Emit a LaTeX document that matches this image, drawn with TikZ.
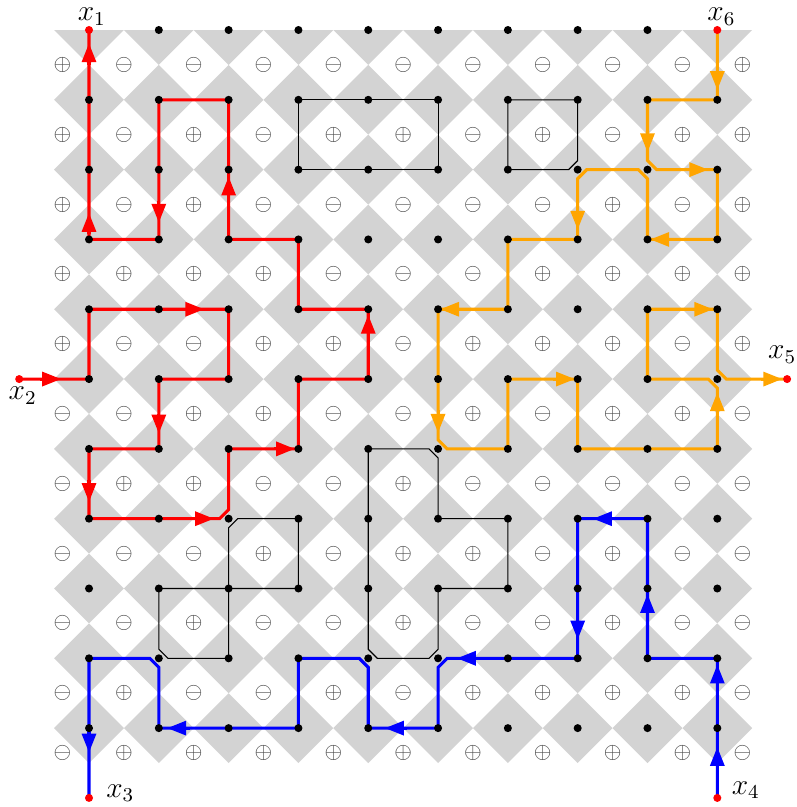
\documentclass[tikz,border=0pt]{standalone}
\usetikzlibrary{arrows.meta,calc}
\definecolor{tilegray}{RGB}{211,211,211}
\definecolor{walkorange}{RGB}{255,165,0}
\newcommand\pathtip[5]{\draw[tipline,#1] ($(#2)!#4!(#3)$) -- ($(#2)!#5!(#3)$);}
\begin{document}
\begin{tikzpicture}[x=1cm,y=1cm,
  dot/.style={circle,fill=black,draw=none,inner sep=0pt,minimum size=0.115cm},
  termdot/.style={circle,fill=red,draw=none,inner sep=0pt,minimum size=0.115cm},
  sym/.style={text=black!70,inner sep=0pt,font=\fontsize{9.3}{10}\selectfont},
  loopline/.style={draw=black,line width=0.45pt},
  walk/.style={line width=1.25pt},
  tipline/.style={-{Triangle[length=0.27cm,width=0.2cm]},line width=1.25pt},
  lab/.style={inner sep=0pt,font=\fontsize{11.5}{13}\selectfont}]
\useasboundingbox (-1.275,-11.13) rectangle (10.13,0.43);
\def\chm{0.13}
% lattice coordinates
\foreach \i in {0,...,9} {\foreach \j in {0,...,10} {\coordinate (g-\i-\j) at (\i,-\j);}}
\coordinate (t2) at (-1,-5);
\coordinate (t5) at (10,-5);
\coordinate (t3) at (0,-11);
\coordinate (t4) at (9,-11);
% checkerboard of diamonds
\begin{scope}
\clip (-0.5,-10.5) rectangle (9.5,0);
\foreach \i in {0,...,9} {\foreach \j in {0,...,10} {
  \fill[tilegray] (\i-0.5,-\j) -- (\i,-\j+0.5) -- (\i+0.5,-\j) -- (\i,-\j-0.5) -- cycle;}}
\end{scope}
% signs
\foreach \row [count=\r from 0] in {%
 {p,m,m,m,m,m,m,m,m,m,p},%
 {p,m,p,m,p,p,m,p,m,p,p},%
 {p,m,p,m,m,m,m,m,p,m,p},%
 {p,p,p,p,m,m,m,p,p,p,p},%
 {p,m,m,p,p,m,p,p,p,m,p},%
 {m,m,p,p,m,m,p,m,p,p,m},%
 {m,p,p,m,m,p,m,m,m,m,m},%
 {m,m,m,p,m,p,p,m,p,m,m},%
 {m,m,p,m,m,p,m,m,p,m,m},%
 {m,p,m,m,p,m,p,p,p,p,m},%
 {m,p,p,p,p,p,p,p,p,p,m}} {%
  \foreach \s [count=\c from 0] in \row {%
    \pgfmathsetmacro\sx{\c==0 ? -0.38 : (\c==10 ? 9.36 : \c-0.5)}%
    \pgfmathsetmacro\sy{\r==10 ? -10.36 : -\r-0.5}%
    \node[sym] (s-\r-\c) at (\sx,\sy) {\if p\s$\oplus$\else$\ominus$\fi};
  }%
}
% black loops
\draw[loopline] (g-3-1) -- (g-5-1) -- (g-5-2) -- (g-3-2) -- cycle;
\draw[loopline] (g-6-1) -- (g-7-1) -- ($(g-7-2)+(0,\chm)$) -- ($(g-7-2)+(-\chm,0)$) -- (g-6-2) -- cycle;
\draw[loopline] ($(g-2-7)+(\chm,0)$) -- (g-3-7) -- (g-3-8) -- (g-1-8) -- ($(g-1-9)+(0,\chm)$) -- ($(g-1-9)+(\chm,0)$) -- (g-2-9) -- ($(g-2-7)+(0,-\chm)$) -- cycle;
\draw[loopline] (g-4-6) -- ($(g-5-6)+(-\chm,0)$) -- ($(g-5-6)+(0,-\chm)$) -- (g-5-7) -- (g-6-7) -- (g-6-8) -- (g-5-8) -- ($(g-5-9)+(0,\chm)$) -- ($(g-5-9)+(-\chm,0)$) -- ($(g-4-9)+(\chm,0)$) -- ($(g-4-9)+(0,\chm)$) -- cycle;
% red walk
\draw[walk,red] (t2) -- (g-0-5) -- (g-0-4) -- (g-2-4) -- (g-2-5) -- (g-1-5) -- (g-1-6) -- (g-0-6) -- (g-0-7) -- ($(g-2-7)+(-\chm,0)$) -- ($(g-2-7)+(0,\chm)$) -- (g-2-6) -- (g-3-6) -- (g-3-5) -- (g-4-5) -- (g-4-4) -- (g-3-4) -- (g-3-3) -- (g-2-3) -- (g-2-1) -- (g-1-1) -- (g-1-3) -- (g-0-3) -- (g-0-0);
\pathtip{red}{t2}{g-0-5}{0.3}{0.6}
\pathtip{red}{g-1-4}{g-2-4}{0.35}{0.65}
\pathtip{red}{g-1-5}{g-1-6}{0.5}{0.78}
\pathtip{red}{g-0-6}{g-0-7}{0.45}{0.76}
\pathtip{red}{g-1-7}{g-2-7}{0.5}{0.79}
\pathtip{red}{g-2-6}{g-3-6}{0.65}{0.95}
\pathtip{red}{g-4-5}{g-4-4}{0.6}{0.92}
\pathtip{red}{g-2-3}{g-2-2}{0.6}{0.9}
\pathtip{red}{g-1-2}{g-1-3}{0.45}{0.76}
\pathtip{red}{g-0-3}{g-0-2}{0.08}{0.38}
\pathtip{red}{g-0-1}{g-0-0}{0.5}{0.81}
% orange walk
\draw[walk,walkorange] (g-9-0) -- (g-9-1) -- (g-8-1) -- ($(g-8-2)+(0,\chm)$) -- ($(g-8-2)+(\chm,0)$) -- (g-9-2) -- (g-9-3) -- (g-8-3) -- ($(g-8-2)+(0,-\chm)$) -- ($(g-8-2)+(-\chm,0)$) -- ($(g-7-2)+(\chm,0)$) -- ($(g-7-2)+(0,-\chm)$) -- (g-7-3) -- (g-6-3) -- (g-6-4) -- (g-5-4) -- ($(g-5-6)+(0,\chm)$) -- ($(g-5-6)+(\chm,0)$) -- (g-6-6) -- (g-6-5) -- (g-7-5) -- (g-7-6) -- (g-9-6) -- ($(g-9-5)+(0,-\chm)$) -- ($(g-9-5)+(-\chm,0)$) -- (g-8-5) -- (g-8-4) -- (g-9-4) -- ($(g-9-5)+(0,\chm)$) -- ($(g-9-5)+(\chm,0)$) -- (t5);
\pathtip{walkorange}{g-9-0}{g-9-1}{0.55}{0.86}
\pathtip{walkorange}{g-8-1}{g-8-2}{0.45}{0.75}
\pathtip{walkorange}{g-8-2}{g-9-2}{0.57}{0.87}
\pathtip{walkorange}{g-9-3}{g-8-3}{0.65}{0.96}
\pathtip{walkorange}{g-7-2}{g-7-3}{0.55}{0.86}
\pathtip{walkorange}{g-6-4}{g-5-4}{0.65}{0.97}
\pathtip{walkorange}{g-5-5}{g-5-6}{0.45}{0.77}
\pathtip{walkorange}{g-6-5}{g-7-5}{0.65}{0.96}
\pathtip{walkorange}{g-9-6}{g-9-5}{0.5}{0.81}
\pathtip{walkorange}{g-8-4}{g-9-4}{0.62}{0.94}
\pathtip{walkorange}{g-9-5}{t5}{0.62}{0.93}
% blue walk
\draw[walk,blue] (t4) -- (g-9-9) -- (g-8-9) -- (g-8-7) -- (g-7-7) -- (g-7-9) -- ($(g-5-9)+(\chm,0)$) -- ($(g-5-9)+(0,-\chm)$) -- (g-5-10) -- (g-4-10) -- ($(g-4-9)+(0,-\chm)$) -- ($(g-4-9)+(-\chm,0)$) -- (g-3-9) -- (g-3-10) -- (g-1-10) -- ($(g-1-9)+(0,-\chm)$) -- ($(g-1-9)+(-\chm,0)$) -- (g-0-9) -- (t3);
\pathtip{blue}{t4}{g-9-10}{0.4}{0.73}
\pathtip{blue}{g-9-10}{g-9-9}{0.6}{0.91}
\pathtip{blue}{g-8-9}{g-8-8}{0.6}{0.92}
\pathtip{blue}{g-8-7}{g-7-7}{0.45}{0.78}
\pathtip{blue}{g-7-8}{g-7-9}{0.4}{0.73}
\pathtip{blue}{g-6-9}{g-5-9}{0.4}{0.73}
\pathtip{blue}{g-5-10}{g-4-10}{0.45}{0.76}
\pathtip{blue}{g-2-10}{g-1-10}{0.55}{0.88}
\pathtip{blue}{g-0-10}{t3}{0.04}{0.35}
% dots
\foreach \i in {0,...,9} {\foreach \j in {0,...,10} {%
  \pgfmathtruncatemacro\isterm{(\j==0)&&((\i==0)||(\i==9))}%
  \ifnum\isterm=0 \node[dot] (d-\i-\j) at (g-\i-\j) {};\fi}}
\node[termdot] (x1) at (g-0-0) {};
\node[termdot] (x6) at (g-9-0) {};
\node[termdot] (x2) at (t2) {};
\node[termdot] (x5) at (t5) {};
\node[termdot] (x3) at (t3) {};
\node[termdot] (x4) at (t4) {};
% labels
\node[lab,anchor=south] (lx1) at ($(g-0-0)+(0.04,0.06)$) {$x_1$};
\node[lab,anchor=south] (lx6) at ($(g-9-0)+(0.06,0.06)$) {$x_6$};
\node[lab,anchor=north] (lx2) at ($(t2)+(0.05,-0.11)$) {$x_2$};
\node[lab,anchor=south] (lx5) at ($(t5)+(-0.07,0.22)$) {$x_5$};
\node[lab,anchor=west] (lx3) at ($(t3)+(0.24,0.07)$) {$x_3$};
\node[lab,anchor=west] (lx4) at ($(t4)+(0.2,0.11)$) {$x_4$};
\end{tikzpicture}
\end{document}
